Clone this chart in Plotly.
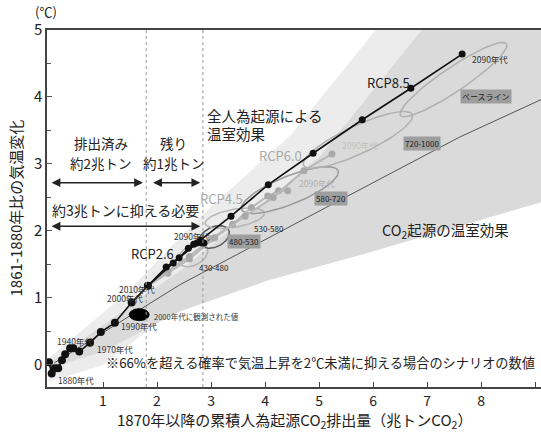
import numpy as np
import plotly.graph_objects as go

FONT = "Noto Sans CJK JP, Noto Sans, sans-serif"

# ---- figure geometry -------------------------------------------------------
W, H = 541, 432
ML, MR, MT, MB = 47, 0, 30, 45
X_RANGE = [-0.037, 9.11]
Y_RANGE = [-0.33, 5.0]

# ---- data ------------------------------------------------------------------
# observed decadal means, 1880s ... 2010s
hist_x = [0.00, 0.05, 0.11, 0.17, 0.24, 0.30, 0.39, 0.45, 0.56, 0.76, 0.96, 1.22, 1.53, 1.83]
hist_y = [0.04, -0.13, -0.05, -0.05, 0.07, 0.16, 0.25, 0.25, 0.20, 0.33, 0.49, 0.63, 0.93, 1.18]

# scenario decadal means, 2010s ... 2090s
rcp26_x = [1.83, 2.17, 2.41, 2.58, 2.68, 2.74, 2.80, 2.84, 2.87]
rcp26_y = [1.18, 1.46, 1.60, 1.74, 1.80, 1.82, 1.83, 1.82, 1.82]
rcp45_x = [1.83, 2.20, 2.60, 3.00, 3.40, 3.75, 4.05, 4.25, 4.42]
rcp45_y = [1.18, 1.40, 1.62, 1.88, 2.10, 2.35, 2.52, 2.60, 2.60]
rcp60_x = [1.83, 2.20, 2.60, 3.07, 3.63, 4.15, 4.72, 5.24]
rcp60_y = [1.18, 1.37, 1.58, 1.90, 2.22, 2.50, 2.90, 3.15]
rcp85_x = [1.83, 2.30, 2.80, 3.37, 4.06, 4.89, 5.80, 6.70, 7.65]
rcp85_y = [1.18, 1.52, 1.86, 2.22, 2.69, 3.16, 3.66, 4.13, 4.64]

# CO2-only response (mean)
co2_x = [0.10, 2.43, 5.20, 7.60, 9.11]
co2_y = [0.03, 1.20, 2.38, 3.40, 3.96]

# plume outlines: all anthropogenic forcing / CO2 only
plume_all_x = [0.00, 1.40, 2.85, 4.50, 6.05, 9.11, 9.11, 5.76, 4.09, 2.43, 1.80, 1.00, 0.00]
plume_all_y = [0.10, 1.05, 2.25, 3.45, 5.00, 5.00, 2.43, 1.64, 1.27, 0.93, 0.50, 0.00, -0.25]
plume_co2_x = [0.00, 2.50, 5.00, 6.90, 9.11, 9.11, 5.76, 4.09, 2.43, 1.00, 0.00]
plume_co2_y = [0.02, 1.45, 3.10, 5.00, 5.00, 2.43, 1.64, 1.27, 0.80, 0.20, -0.05]

# 2081-2100 ranges by concentration category (centre in data units,
# semi-axes in screen pixels, tilt in degrees)
ell_name = ["430-480", "480-530", "530-580", "580-720", "720-1000", "ベースライン"]
ell_cx = [2.67, 3.06, 3.44, 4.46, 5.72, 7.49]
ell_cy = [1.64, 1.91, 2.19, 2.61, 3.36, 4.26]
ell_a = [16, 16, 30, 52, 60, 64]
ell_b = [10, 10, 9, 14, 14, 12]
ell_ang = [30, 25, 10, 22, 25, 34]
ell_col = ["#b5b5b5", "#5a5a5a", "#b5b5b5", "#9a9a9a", "#b0b0b0", "#b0b0b0"]

# category label positions and styles
lab_x = [3.06, 3.61, 4.07, 5.22, 6.91, 8.09]
lab_y = [1.45, 1.84, 2.03, 2.48, 3.31, 4.01]
lab_dark = [False, True, False, True, True, True]

# observed 2000s mean
obs_x, obs_y = 1.67, 0.75

# ---- helpers ---------------------------------------------------------------
sx = (W - ML - MR) / (X_RANGE[1] - X_RANGE[0])
sy = (H - MT - MB) / (Y_RANGE[1] - Y_RANGE[0])


def ellipse(cx, cy, a, b, ang, n=90):
    t = np.linspace(0, 2 * np.pi, n)
    th = np.radians(ang)
    px = a * np.cos(t) * np.cos(th) - b * np.sin(t) * np.sin(th)
    py = a * np.cos(t) * np.sin(th) + b * np.sin(t) * np.cos(th)
    return cx + px / sx, cy + py / sy


fig = go.Figure()

# plumes
fig.add_trace(go.Scatter(x=plume_all_x, y=plume_all_y, fill="toself", mode="lines",
                         line=dict(width=0), fillcolor="#ececec", hoverinfo="skip"))
fig.add_trace(go.Scatter(x=plume_co2_x, y=plume_co2_y, fill="toself", mode="lines",
                         line=dict(width=0), fillcolor="#dadada", hoverinfo="skip"))

# CO2-only mean line
fig.add_trace(go.Scatter(x=co2_x, y=co2_y, mode="lines",
                         line=dict(color="#555555", width=1), hoverinfo="skip"))

# category ellipses
for cx, cy, a, b, ang, col in zip(ell_cx, ell_cy, ell_a, ell_b, ell_ang, ell_col):
    ex, ey = ellipse(cx, cy, a, b, ang)
    fig.add_trace(go.Scatter(x=ex, y=ey, mode="lines",
                             line=dict(color=col, width=1.5), hoverinfo="skip"))

# grey scenarios
for xs, ys in [(rcp45_x, rcp45_y), (rcp60_x, rcp60_y)]:
    fig.add_trace(go.Scatter(x=xs[1:], y=ys[1:], mode="lines+markers",
                             line=dict(color="#b8b8b8", width=2),
                             marker=dict(color="#a9a9a9", size=7)))
    fig.add_trace(go.Scatter(x=xs[:2], y=ys[:2], mode="lines",
                             line=dict(color="#b8b8b8", width=2)))

# black scenarios
for xs, ys in [(rcp85_x, rcp85_y), (rcp26_x, rcp26_y)]:
    fig.add_trace(go.Scatter(x=xs, y=ys, mode="lines+markers",
                             line=dict(color="#111111", width=1.6),
                             marker=dict(color="#111111", size=7)))

# observations
fig.add_trace(go.Scatter(x=hist_x, y=hist_y, mode="lines+markers",
                         line=dict(color="#111111", width=1.6),
                         marker=dict(color="#111111", size=8)))
ox, oy = ellipse(obs_x, obs_y, 10, 6, 0)
fig.add_trace(go.Scatter(x=ox, y=oy, fill="toself", mode="lines",
                         line=dict(color="#000000", width=1), fillcolor="#000000"))

# ---- annotations -----------------------------------------------------------
ann = []


def text(x, y, s, size=14, color="#222222", xanchor="center", **kw):
    ann.append(dict(x=x, y=y, xref="x", yref="y", text=s, showarrow=False,
                    xanchor=xanchor, yanchor="middle",
                    font=dict(family=FONT, size=size, color=color), **kw))


def arrow(x0, x1, y):
    ann.append(dict(x=x1, y=y, ax=x0, ay=y, xref="x", yref="y", axref="x", ayref="y",
                    text="", showarrow=True, arrowhead=2, arrowsize=1.1,
                    arrowwidth=1.6, arrowcolor="#222222", arrowside="end+start"))


arrow(0.02, 1.74, 2.72)
arrow(1.90, 2.80, 2.72)
arrow(0.02, 2.80, 2.07)

text(0.96, 3.31, "排出済み", 13.5)
text(0.96, 3.02, "約2兆トン", 13.5)
text(2.31, 3.31, "残り", 13.5)
text(2.31, 3.02, "約1兆トン", 13.5)
text(1.41, 2.31, "約3兆トンに抑える必要", 14)
text(2.89, 3.73, "全人為起源による", 14.5, xanchor="left")
text(2.89, 3.46, "温室効果", 14.5, xanchor="left")
text(7.35, 2.01, "CO<sub>2</sub>起源の温室効果", 14.5)
text(5.02, 0.03, "※66%を超える確率で気温上昇を2℃未満に抑える場合のシナリオの数値", 13.2)

text(1.92, 1.67, "RCP2.6", 13)
text(3.20, 2.49, "RCP4.5", 13, color="#aaaaaa")
text(4.28, 3.13, "RCP6.0", 13, color="#aaaaaa")
text(6.28, 4.21, "RCP8.5", 13)

small = 8.5
text(0.13, -0.22, "1880年代", small, color="#333333", xanchor="left")
text(0.12, 0.35, "1940年代", small, color="#333333", xanchor="left")
text(0.85, 0.23, "1970年代", small, color="#333333", xanchor="left")
text(1.30, 0.58, "1990年代", small, color="#333333", xanchor="left")
text(1.03, 1.00, "2000年代", small, color="#333333", xanchor="left")
text(1.26, 1.13, "2010年代", small, color="#333333", xanchor="left")
text(2.27, 1.93, "2090年代", small, color="#333333", xanchor="left")
text(7.80, 4.57, "2090年代", small, color="#333333", xanchor="left")
text(4.59, 2.72, "2090年代", small, color="#b0b0b0", xanchor="left")
text(5.38, 3.29, "2090年代", small, color="#c0c0c0", xanchor="left")
text(1.91, 0.72, "2000年代に観測された値", 7.5, color="#333333", xanchor="left")

for nm, x, y, dark in zip(ell_name, lab_x, lab_y, lab_dark):
    ann.append(dict(x=x, y=y, xref="x", yref="y", text=nm, showarrow=False,
                    font=dict(family=FONT, size=8, color="#222222"),
                    bgcolor="#9e9e9e" if dark else "rgba(0,0,0,0)", borderpad=1))

# axis titles
ann.append(dict(x=0, y=0.5, xref="paper", yref="paper", text="1861-1880年比の気温変化",
                textangle=-90, showarrow=False, xanchor="center", yanchor="middle",
                xshift=-(ML - 15),
                font=dict(family=FONT, size=15, color="#222222")))
ann.append(dict(x=0, y=1, xref="paper", yref="paper", text="(℃)", showarrow=False,
                xanchor="center", yanchor="bottom", yshift=7, xshift=-1,
                font=dict(family=FONT, size=13, color="#222222")))
ann.append(dict(x=0.5, y=0, xref="paper", yref="paper",
                text="1870年以降の累積人為起源CO<sub>2</sub>排出量（兆トンCO<sub>2</sub>）",
                showarrow=False, xanchor="center", yanchor="middle", yshift=-33,
                font=dict(family=FONT, size=15, color="#222222")))

shapes = []
for xv in [1.8, 2.85]:
    shapes.append(dict(type="line", xref="x", yref="paper", x0=xv, x1=xv, y0=0, y1=1,
                       line=dict(color="#9a9a9a", width=1, dash="dot")))

fig.update_layout(
    width=W, height=H,
    margin=dict(l=ML, r=MR, t=MT, b=MB),
    paper_bgcolor="white", plot_bgcolor="white",
    showlegend=False,
    annotations=ann, shapes=shapes,
    font=dict(family=FONT, color="#222222"),
    xaxis=dict(range=X_RANGE, showgrid=False, zeroline=False,
               tickvals=[1, 2, 3, 4, 5, 6, 7, 8, 9],
               ticktext=["1", "2", "3", "4", "5", "6", "7", "8", ""],
               ticks="inside", ticklen=5, tickcolor="#444444",
               showline=True, linecolor="#444444", linewidth=1.5, mirror=True,
               tickfont=dict(family=FONT, size=14, color="#222222")),
    yaxis=dict(range=Y_RANGE, showgrid=False, zeroline=False,
               tickvals=[0, 1, 2, 3, 4, 5],
               ticks="inside", ticklen=5, tickcolor="#555555",
               minor=dict(dtick=0.5, tick0=0, ticks="inside", ticklen=4, tickcolor="#555555"),
               showline=True, linecolor="#444444", linewidth=1.5,
               tickfont=dict(family=FONT, size=15, color="#222222")),
)

fig.write_html("out.html")
